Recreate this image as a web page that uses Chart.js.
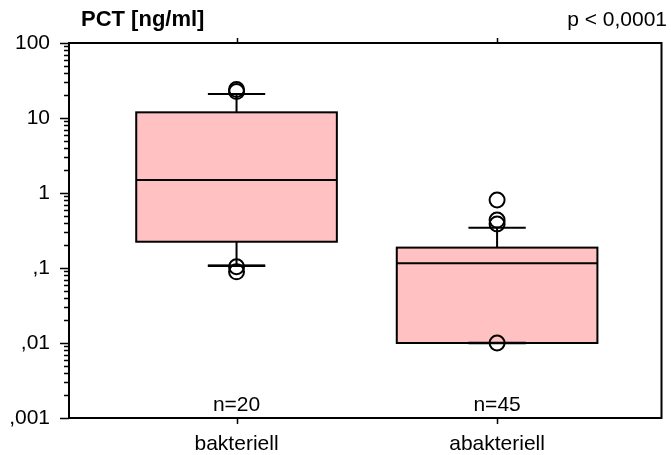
<!DOCTYPE html>
<html>
<head>
<meta charset="utf-8">
<script src="https://cdn.jsdelivr.net/npm/chart.js@4.4.1/dist/chart.umd.min.js"></script>
<style>
  html, body { margin: 0; padding: 0; background: #ffffff; }
  #wrap { width: 671px; height: 455px; position: relative; }
</style>
</head>
<body>
<div id="wrap"><canvas id="c"></canvas></div>
<script>
// Groups and sample sizes
const categories = ['bakteriell', 'abakteriell'];
const counts = [20, 45];

// Box plot statistics per group (PCT in ng/ml)
const whiskerLow = [0.107, 0.01];
const q1 = [0.224, 0.01];
const median = [1.49, 0.116];
const q3 = [11.9, 0.187];
const whiskerHigh = [20.9, 0.344];

// Individual outlying values per group
const outliersBakteriell = [22.5, 24, 0.104, 0.089];
const outliersAbakteriell = [0.386, 0.436, 0.807, 0.01];

// Log axis decades and their labels
const yTickValues = [0.001, 0.01, 0.1, 1, 10, 100];
const yTickLabels = [',001', ',01', ',1', '1', '10', '100'];

const FONT = "'Liberation Sans', Arial, sans-serif";
const FONT_SIZE = 21;
const BOX_FILL = '#ffc1c1';
const BOX_HALF = 0.385;     // half box width in x units
const CAP_HALF = 0.11;      // half whisker cap width in x units

const boxPlugin = {
  id: 'boxes',
  beforeDatasetsDraw(chart) {
    const { ctx, scales: { x, y } } = chart;
    ctx.save();
    ctx.lineWidth = 2;
    ctx.strokeStyle = '#000';
    categories.forEach((cat, i) => {
      const xc = x.getPixelForValue(i + 1);
      const xl = x.getPixelForValue(i + 1 - BOX_HALF);
      const xr = x.getPixelForValue(i + 1 + BOX_HALF);
      const cl = x.getPixelForValue(i + 1 - CAP_HALF);
      const cr = x.getPixelForValue(i + 1 + CAP_HALF);
      const yq1 = y.getPixelForValue(q1[i]);
      const yq3 = y.getPixelForValue(q3[i]);
      const ymed = y.getPixelForValue(median[i]);
      const ylo = y.getPixelForValue(whiskerLow[i]);
      const yhi = y.getPixelForValue(whiskerHigh[i]);
      // whiskers
      ctx.beginPath();
      ctx.moveTo(xc, yq3); ctx.lineTo(xc, yhi);
      ctx.moveTo(cl, yhi); ctx.lineTo(cr, yhi);
      ctx.moveTo(xc, yq1); ctx.lineTo(xc, ylo);
      ctx.moveTo(cl, ylo); ctx.lineTo(cr, ylo);
      ctx.stroke();
      // box
      ctx.fillStyle = BOX_FILL;
      ctx.fillRect(xl, yq3, xr - xl, yq1 - yq3);
      ctx.strokeRect(xl, yq3, xr - xl, yq1 - yq3);
      // median
      ctx.beginPath();
      ctx.moveTo(xl, ymed); ctx.lineTo(xr, ymed);
      ctx.stroke();
      // lower cap again, in case it lies on the box edge
      ctx.beginPath();
      ctx.lineWidth = 2.5;
      ctx.moveTo(cl, ylo); ctx.lineTo(cr, ylo);
      ctx.stroke();
      ctx.lineWidth = 2;
    });
    ctx.restore();
  },
  afterDraw(chart) {
    const { ctx, chartArea: a, scales: { x, y } } = chart;
    ctx.save();
    ctx.strokeStyle = '#000';
    // frame
    ctx.lineWidth = 2;
    ctx.strokeRect(a.left, a.top, a.right - a.left, a.bottom - a.top);
    // y axis ticks: majors at decades, minors at 2..9
    ctx.lineWidth = 1.5;
    ctx.beginPath();
    yTickValues.forEach((v, k) => {
      const py = Math.round(y.getPixelForValue(v)) + 0.5;
      ctx.moveTo(a.left - 9, py); ctx.lineTo(a.left, py);
      if (k < yTickValues.length - 1) {
        for (let m = 2; m <= 9; m++) {
          const pm = Math.round(y.getPixelForValue(v * m)) + 0.5;
          ctx.moveTo(a.left - 5, pm); ctx.lineTo(a.left, pm);
        }
      }
    });
    // x ticks at the group positions, top and bottom
    categories.forEach((c, i) => {
      const px = Math.round(x.getPixelForValue(i + 1)) + 0.5;
      ctx.moveTo(px, a.top); ctx.lineTo(px, a.top - 5);
      ctx.moveTo(px, a.bottom); ctx.lineTo(px, a.bottom + 6);
    });
    ctx.stroke();
    // sample sizes
    ctx.fillStyle = '#000';
    ctx.font = FONT_SIZE + 'px ' + FONT;
    ctx.textAlign = 'center';
    ctx.textBaseline = 'middle';
    categories.forEach((c, i) => {
      ctx.fillText('n=' + counts[i], x.getPixelForValue(i + 1), a.bottom - 13);
    });
    // header texts
    ctx.font = 'bold 22px ' + FONT;
    ctx.textAlign = 'left';
    ctx.fillText('PCT [ng/ml]', 81, 20);
    ctx.font = FONT_SIZE + 'px ' + FONT;
    ctx.textAlign = 'right';
    ctx.fillText('p < 0,0001', 667, 20);
    ctx.restore();
  }
};

const outlierStyle = {
  showLine: false,
  pointStyle: 'circle',
  pointRadius: 7.5,
  pointHoverRadius: 7.5,
  pointBorderWidth: 2,
  pointBackgroundColor: 'rgba(0,0,0,0)',
  pointBorderColor: '#000'
};

new Chart(document.getElementById('c'), {
  type: 'scatter',
  data: {
    datasets: [
      Object.assign({ label: categories[0], data: outliersBakteriell.map(v => ({ x: 1, y: v })) }, outlierStyle),
      Object.assign({ label: categories[1], data: outliersAbakteriell.map(v => ({ x: 2, y: v })) }, outlierStyle)
    ]
  },
  options: {
    responsive: true,
    maintainAspectRatio: false,
    animation: false,
    layout: { padding: { top: 43, right: 4, left: 0, bottom: 0 } },
    plugins: { legend: { display: false }, tooltip: { enabled: false }, title: { display: false } },
    scales: {
      x: {
        type: 'linear',
        min: 0.357,
        max: 2.631,
        grid: { display: false },
        border: { display: false },
        afterBuildTicks(scale) { scale.ticks = categories.map((c, i) => ({ value: i + 1 })); },
        afterFit(scale) { scale.height = 37; },
        ticks: {
          padding: 6,
          color: '#000',
          font: { family: FONT, size: FONT_SIZE },
          maxRotation: 0,
          autoSkip: false,
          callback: (v) => categories[v - 1] || ''
        }
      },
      y: {
        type: 'logarithmic',
        min: 0.001,
        max: 100,
        grid: { display: false },
        border: { display: false },
        afterBuildTicks(scale) { scale.ticks = yTickValues.map(v => ({ value: v })); },
        afterFit(scale) { scale.width = 69; },
        ticks: {
          padding: 11,
          color: '#000',
          font: { family: FONT, size: FONT_SIZE },
          autoSkip: false,
          callback: (v) => {
            const k = yTickValues.findIndex(t => Math.abs(t - v) / t < 1e-6);
            return k >= 0 ? yTickLabels[k] : '';
          }
        }
      }
    }
  },
  plugins: [boxPlugin]
});
</script>
</body>
</html>
